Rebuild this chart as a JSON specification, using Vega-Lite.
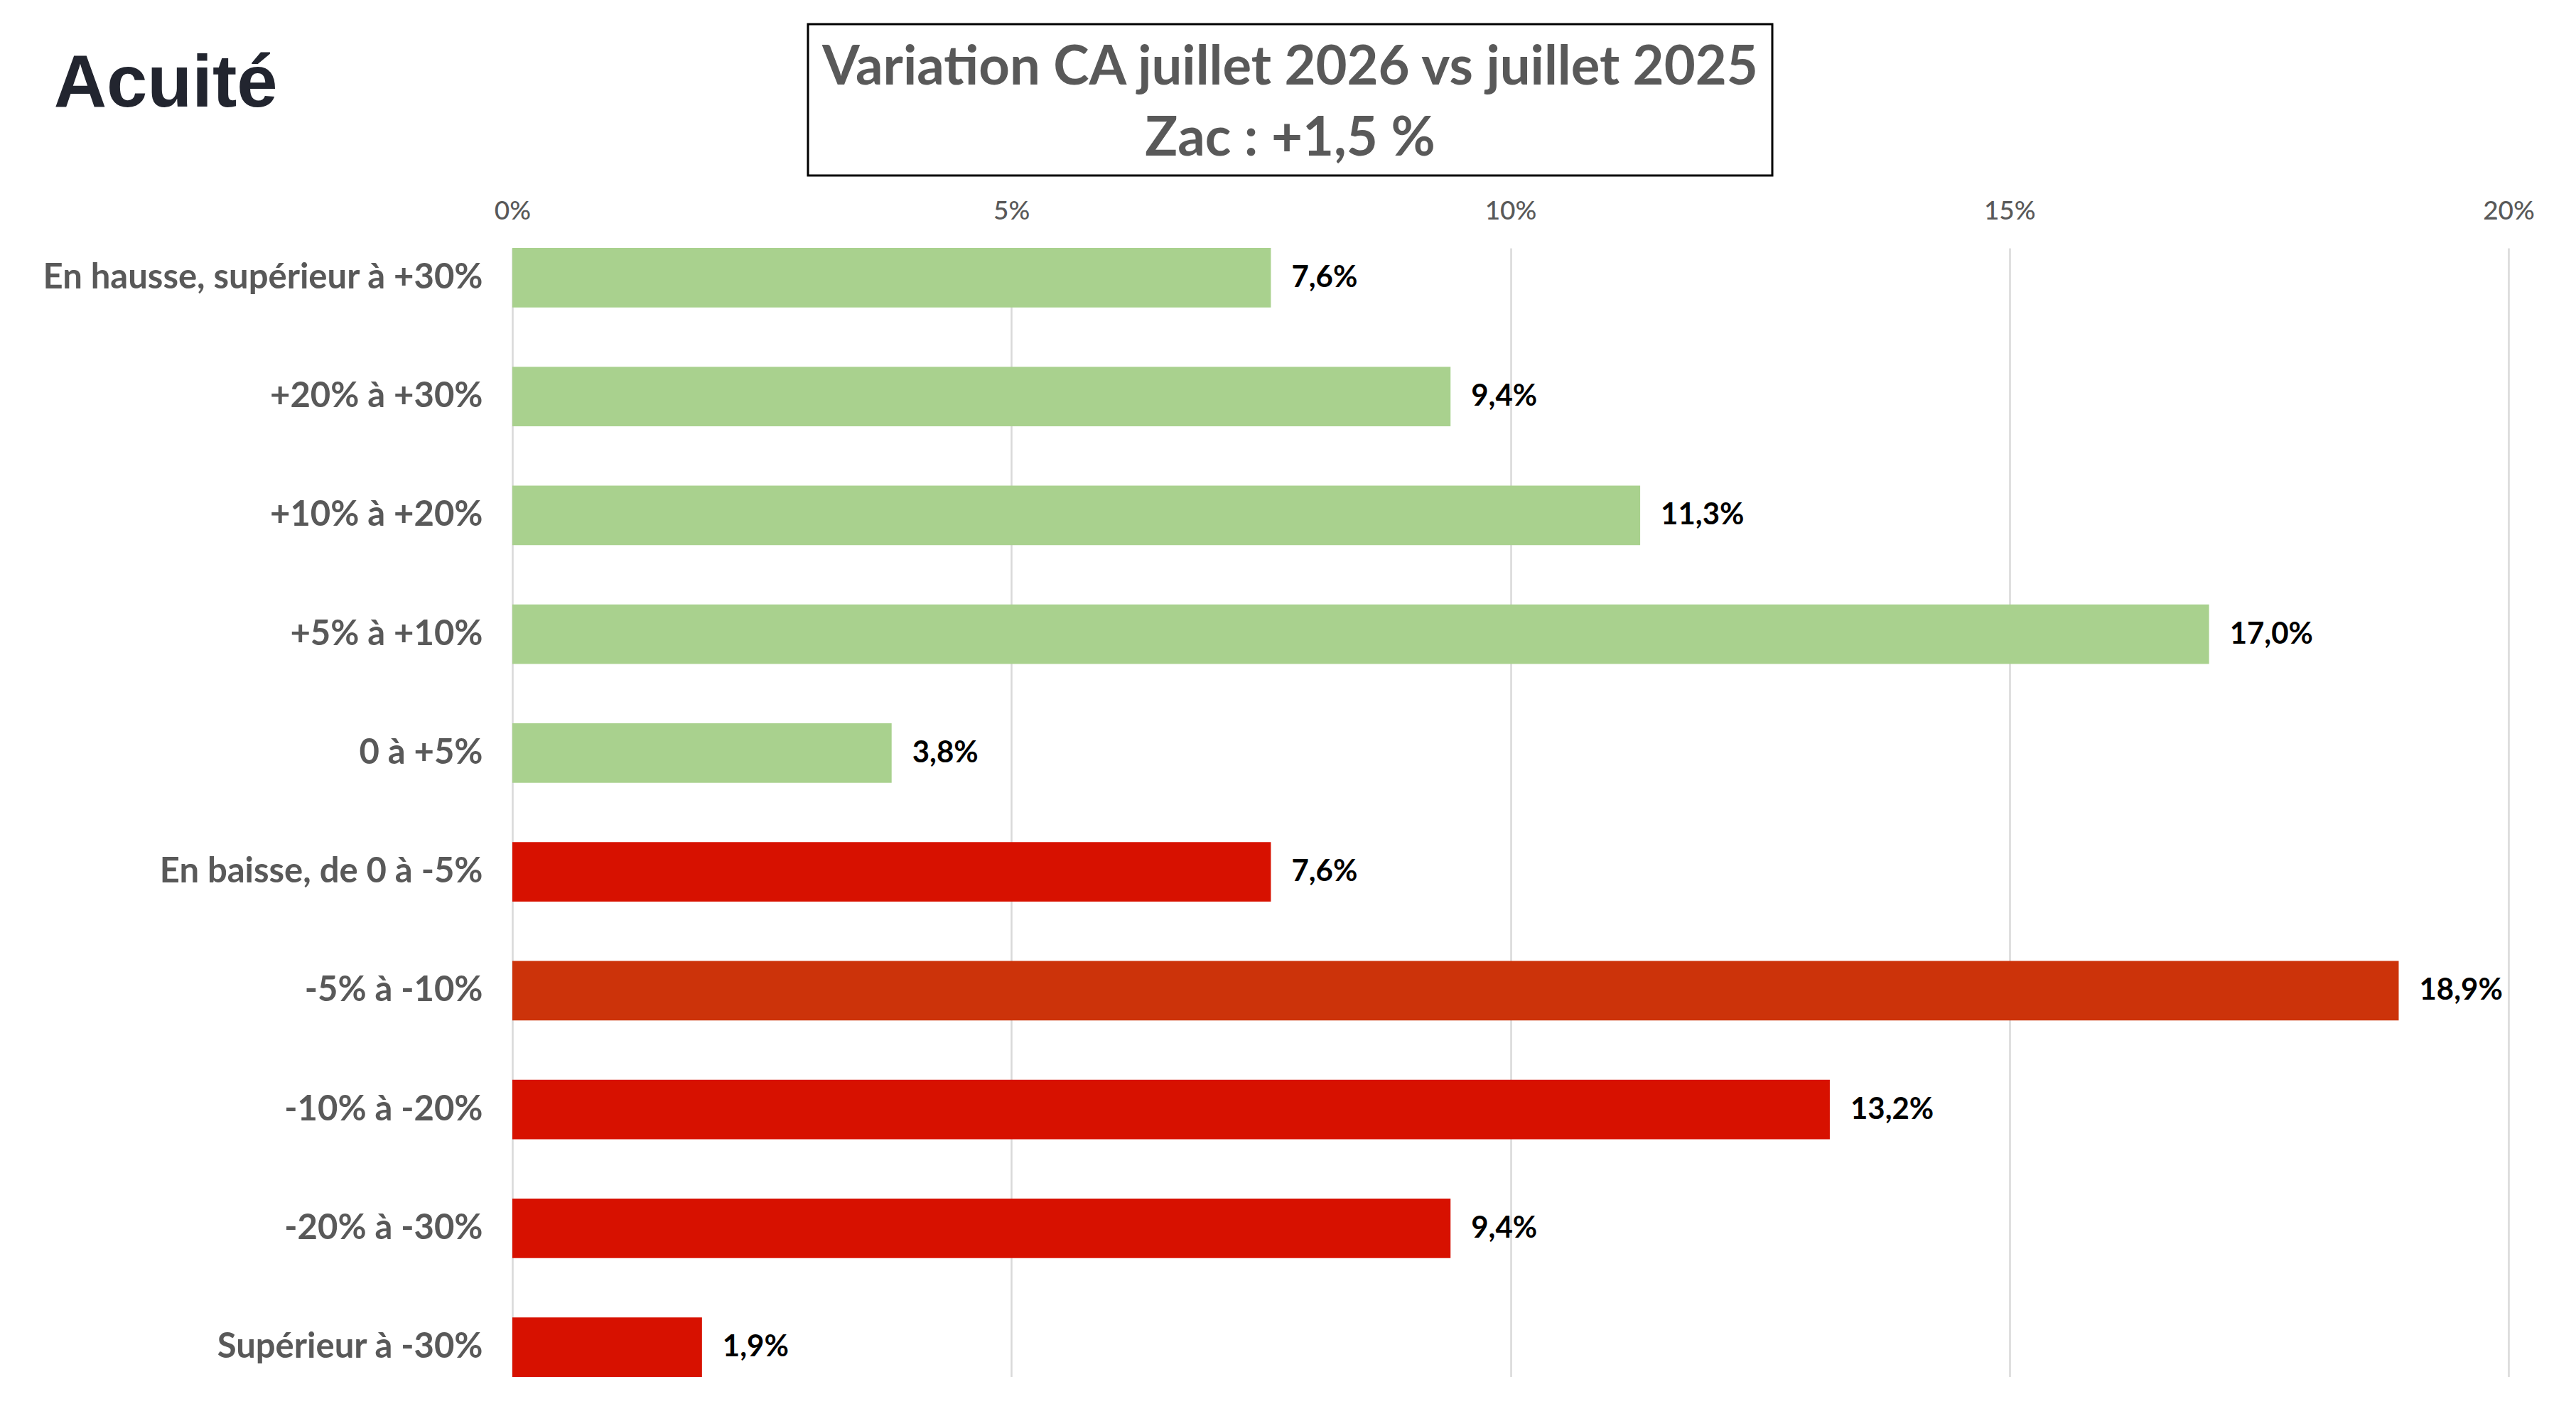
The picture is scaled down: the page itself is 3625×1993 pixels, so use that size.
{
  "$schema": "https://vega.github.io/schema/vega-lite/v6.json",
  "background": "white",
  "padding": {"left": 59, "top": 32, "right": 0, "bottom": 0},
  "config": {
    "view": {"stroke": null},
    "font": "Lato",
    "locale": {
      "number": {"decimal": ",", "thousands": " ", "grouping": [3], "currency": ["", " €"]}
    }
  },
  "spacing": 29,
  "vconcat": [
    {
      "hconcat": [
        {
          "width": 14,
          "height": 168,
          "data": {"values": [{"marque": "Acuité"}]},
          "mark": {"type": "text"},
          "encoding": {
            "y": {
              "field": "marque",
              "type": "nominal",
              "axis": {
                "title": "Acuité",
                "labels": false,
                "ticks": false,
                "domain": false,
                "grid": false,
                "minExtent": 0,
                "titleAngle": 0,
                "titleAlign": "right",
                "titleBaseline": "middle",
                "titleFont": "Liberation Sans",
                "titleFontSize": 103,
                "titleFontWeight": "bold",
                "titleColor": "#22252f",
                "titlePadding": 331
              }
            }
          }
        },
        {
          "width": 1357,
          "height": 213,
          "view": {"stroke": "black", "strokeWidth": 3},
          "data": {
            "values": [
              {"ligne": 1, "texte": "Variation CA juillet 2026 vs juillet 2025"},
              {"ligne": 2, "texte": "Zac : +1,5 %"}
            ]
          },
          "mark": {
            "type": "text",
            "fontWeight": "bold",
            "fontSize": 76,
            "color": "#595959",
            "baseline": "alphabetic"
          },
          "encoding": {
            "y": {
              "field": "ligne",
              "type": "quantitative",
              "axis": null,
              "scale": {"domain": [0.15, 2.28], "reverse": true}
            },
            "text": {"field": "texte"}
          }
        }
      ],
      "spacing": 400
    },
    {
      "width": 2809,
      "height": 1589,
      "data": {
        "values": [
          {"tranche": "En hausse, supérieur à +30%", "part": 0.076},
          {"tranche": "+20% à +30%", "part": 0.094},
          {"tranche": "+10% à +20%", "part": 0.113},
          {"tranche": "+5% à +10%", "part": 0.17},
          {"tranche": "0 à +5%", "part": 0.038},
          {"tranche": "En baisse, de 0 à -5%", "part": 0.076},
          {"tranche": "-5% à -10%", "part": 0.189},
          {"tranche": "-10% à -20%", "part": 0.132},
          {"tranche": "-20% à -30%", "part": 0.094},
          {"tranche": "Supérieur à -30%", "part": 0.019}
        ]
      },
      "encoding": {
        "y": {
          "field": "tranche",
          "type": "nominal",
          "sort": null,
          "title": null,
          "scale": {"paddingInner": 0.5, "paddingOuter": 0},
          "axis": {
            "domain": false,
            "ticks": false,
            "labelFontSize": 49,
            "labelFontWeight": "bold",
            "labelColor": "#595959",
            "labelPadding": 42,
            "labelLimit": 1000
          }
        },
        "x": {
          "field": "part",
          "type": "quantitative",
          "title": null,
          "scale": {"domain": [0, 0.2]},
          "axis": {
            "orient": "top",
            "values": [0, 0.05, 0.1, 0.15, 0.2],
            "format": ".0%",
            "domain": false,
            "ticks": false,
            "grid": true,
            "gridColor": "#d9d9d9",
            "gridWidth": 2.5,
            "labelFontSize": 37,
            "labelFontWeight": 500,
            "labelColor": "#595959",
            "labelPadding": 33,
            "labelFlush": false
          }
        }
      },
      "layer": [
        {
          "mark": {"type": "bar"},
          "encoding": {
            "color": {
              "field": "tranche",
              "type": "nominal",
              "legend": null,
              "scale": {
                "domain": [
                  "En hausse, supérieur à +30%", "+20% à +30%", "+10% à +20%", "+5% à +10%", "0 à +5%",
                  "En baisse, de 0 à -5%", "-5% à -10%", "-10% à -20%", "-20% à -30%", "Supérieur à -30%"
                ],
                "range": [
                  "#a9d18e", "#a9d18e", "#a9d18e", "#a9d18e", "#a9d18e",
                  "#d71100", "#cc330a", "#d71100", "#d71100", "#d71100"
                ]
              }
            }
          }
        },
        {
          "mark": {
            "type": "text",
            "align": "left",
            "baseline": "middle",
            "dx": 29,
            "fontSize": 42,
            "fontWeight": "bold",
            "color": "black"
          },
          "encoding": {
            "text": {"field": "part", "type": "quantitative", "format": ".1%"}
          }
        }
      ]
    }
  ]
}
